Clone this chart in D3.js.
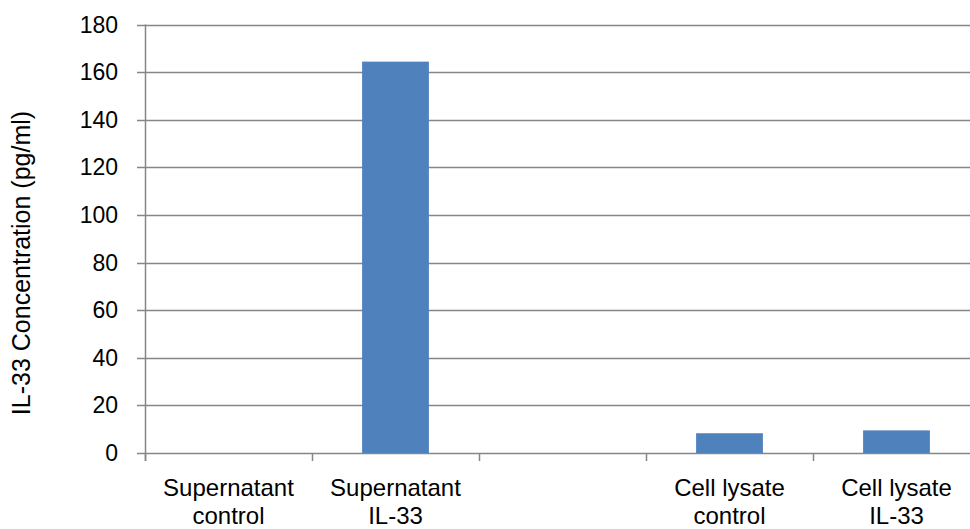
<!DOCTYPE html>
<html>
<head>
<meta charset="utf-8">
<script src="https://cdn.jsdelivr.net/npm/d3@7/dist/d3.min.js"></script>
<style>
  html, body { margin: 0; padding: 0; background: #fff; overflow: hidden; }
  svg { display: block; }
  text { font-family: "Liberation Sans", Arial, sans-serif; fill: #000; }
</style>
</head>
<body>
<svg id="chart" width="970" height="529"></svg>
<script>
// IL-33 concentration per sample group (pg/ml); the third slot is an empty spacer
const categories = [
  ["Supernatant", "control"],
  ["Supernatant", "IL-33"],
  [],
  ["Cell lysate", "control"],
  ["Cell lysate", "IL-33"]
];
const values = [0, 164.4, null, 8.3, 9.5];
const yTicks = [0, 20, 40, 60, 80, 100, 120, 140, 160, 180];
const yTitle = "IL-33 Concentration (pg/ml)";

const svg = d3.select("#chart");
const plotLeft = 145, plotRight = 980, plotTop = 24.5, plotBottom = 453;
const axisColor = "#868686";
const barColor = "#4F81BD";

const x = d3.scaleBand()
  .domain(d3.range(categories.length))
  .range([plotLeft, plotRight])
  .paddingInner(0.6)
  .paddingOuter(0.3);

const y = d3.scaleLinear().domain([0, 180]).range([plotBottom, plotTop]);

// horizontal gridlines with short ticks left of the axis
svg.append("g")
  .selectAll("line")
  .data(yTicks)
  .join("line")
  .attr("x1", plotLeft - 8)
  .attr("x2", plotRight)
  .attr("y1", d => Math.round(y(d)) + 0.5)
  .attr("y2", d => Math.round(y(d)) + 0.5)
  .attr("stroke", axisColor)
  .attr("stroke-width", 1.5);

// y tick labels
svg.append("g")
  .selectAll("text")
  .data(yTicks)
  .join("text")
  .attr("x", 118)
  .attr("y", d => y(d))
  .attr("dy", "0.35em")
  .attr("text-anchor", "end")
  .style("font-size", "23px")
  .text(d => d);

// vertical axis line
svg.append("line")
  .attr("x1", plotLeft + 0.5).attr("x2", plotLeft + 0.5)
  .attr("y1", plotTop).attr("y2", plotBottom + 8)
  .attr("stroke", axisColor)
  .attr("stroke-width", 1.5);

// category boundary ticks under the baseline
const step = x.step();
const boundaries = d3.range(categories.length + 1).map(i => plotLeft + i * step);
svg.append("g")
  .selectAll("line")
  .data(boundaries)
  .join("line")
  .attr("x1", d => Math.round(d) + 0.5)
  .attr("x2", d => Math.round(d) + 0.5)
  .attr("y1", plotBottom)
  .attr("y2", plotBottom + 8)
  .attr("stroke", axisColor)
  .attr("stroke-width", 1.5);

// bars
svg.append("g")
  .selectAll("rect")
  .data(values.map((v, i) => ({ v, i })).filter(d => d.v != null && d.v > 0))
  .join("rect")
  .attr("x", d => x(d.i))
  .attr("width", x.bandwidth())
  .attr("y", d => y(d.v))
  .attr("height", d => y(0) - y(d.v))
  .attr("fill", barColor);

// category labels (two lines each)
const catG = svg.append("g")
  .selectAll("text")
  .data(categories.map((lines, i) => ({ lines, i })))
  .join("text")
  .attr("text-anchor", "middle")
  .style("font-size", "24px");
catG.selectAll("tspan")
  .data(d => d.lines.map((t, k) => ({ t, k, i: d.i })))
  .join("tspan")
  .attr("x", d => x(d.i) + x.bandwidth() / 2)
  .attr("y", d => 496 + d.k * 28)
  .text(d => d.t);

// y axis title
svg.append("text")
  .attr("transform", `translate(30, 263) rotate(-90)`)
  .attr("text-anchor", "middle")
  .style("font-size", "25px")
  .text(yTitle);
</script>
</body>
</html>
